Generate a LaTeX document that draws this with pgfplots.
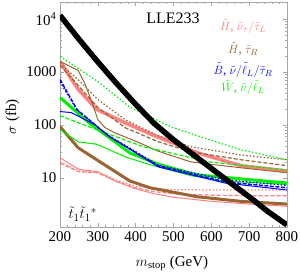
\documentclass[border=0pt]{standalone}
\usepackage{pgfplots}
\pgfplotsset{compat=1.18}
\usepackage{fontspec}
\setmainfont{Liberation Serif}
\definecolor{pinkc}{RGB}{255,128,128}
\definecolor{brownc}{RGB}{153,102,51}
\definecolor{greenc}{RGB}{0,240,0}
\definecolor{bluec}{RGB}{0,0,255}
\begin{document}
\begin{tikzpicture}
\begin{axis}[
  scale only axis, width=227pt, height=225pt,
  xmin=200, xmax=800, ymode=log, ymin=1.18, ymax=21000,
  xtick={200,300,...,800}, minor x tick num=4,
  ytick={10,100,1000,10000}, yticklabels={10,100,1000,10\textsuperscript{4}},
  /pgf/number format/assume math mode=true,
  /pgf/number format/set thousands separator={},
  tick style={gray!70, line width=0.4pt},
  major tick length=4pt, minor tick length=2pt,
  axis line style={gray!70, line width=0.5pt},
  tick label style={font=\fontsize{15}{15}\selectfont},
  xticklabel style={yshift=-1pt},
  xlabel={$m_{\mathrm{stop}}$ (GeV)}, ylabel={$\sigma$ (fb)},
  label style={font=\fontsize{15}{15}\selectfont},
  xlabel style={at={(axis description cs:0.493,-0.16)}, anchor=center},
  ylabel style={at={(axis description cs:-0.21,0.49)}, anchor=center, rotate=0},
  clip=true,
]
% pink (Higgsino, sneutrino/stau L)
\addplot[pinkc, line width=3.5pt] coordinates {(200,1590)(248,470)(298,195)(372,110)(438,68)(565,29.5)(678,17)(800,13.5)};
\addplot[pinkc, line width=1pt] coordinates {(200,24)(250,14.5)(300,13)(350,8.5)(400,6.2)(450,5.0)(500,4.3)(600,3.6)(700,3.2)(800,2.9)};
\addplot[pinkc, line width=1.2pt, dash pattern=on 4pt off 2pt] coordinates {(200,19)(250,13)(300,12.5)(350,8.5)(400,6.5)(450,5.5)(500,5.0)(600,4.7)(700,4.6)(800,4.6)};
\addplot[pinkc, line width=1.2pt, dash pattern=on 1.5pt off 2pt] coordinates {(200,20)(250,13.5)(300,12.8)(350,9)(400,7)(450,6.3)(500,6.0)(600,5.9)(700,5.9)(800,5.9)};
% brown (Higgsino, stau R)
\addplot[brownc, line width=3pt] coordinates {(200,93)(248,37)(306,20)(385,8.7)(438,6.5)(562,4.4)(678,3.6)(800,3.2)};
\addplot[brownc, line width=1pt] coordinates {(200,1590)(248,1070)(266,600)(285,263)(300,126)(319,89)(345,71)(398,50)(459,32)(546,20)(678,15.5)(800,12.5)};
\addplot[brownc, line width=1.2pt, dash pattern=on 1.5pt off 2pt] coordinates {(200,1456)(253,663)(300,302)(372,126)(459,62.7)(546,38.7)(678,27)(800,22)};
\addplot[brownc, line width=1.2pt, dash pattern=on 4pt off 2pt] coordinates {(200,1334)(253,510)(300,213)(372,89)(459,48.2)(546,31.1)(678,22)(800,17)};
% green (Wino)
\addplot[greenc, line width=1.2pt, dash pattern=on 1.5pt off 2pt] coordinates {(200,1977)(300,660)(385,215)(491,93)(597,52)(678,34)(800,22)};
\addplot[greenc, line width=3pt] coordinates {(200,330)(282,102)(327,60)(385,29.5)(464,17.7)(562,11.4)(676,9.6)(800,8.0)};
\addplot[greenc, line width=1pt] coordinates {(200,81)(248,48)(298,43)(372,25)(438,17.7)(546,11)(636,8.7)(800,7.5)};
\addplot[greenc, line width=1.2pt, dash pattern=on 4pt off 2pt] coordinates {(200,150)(282,89)(419,39)(596,20)(800,14)};
% blue (Bino)
\addplot[bluec, line width=1.4pt, dash pattern=on 4pt off 1.5pt] coordinates {(200,724)(245,195)(327,62.7)(459,16.9)(636,8.4)(800,6.5)};
\addplot[bluec, line width=1.2pt, dash pattern=on 1.5pt off 2pt] coordinates {(200,650)(245,190)(327,64)(459,17.5)(636,9.2)(800,7.2)};
\addplot[bluec, line width=1pt] coordinates {(200,179)(230,171)(292,101)(327,62.7)(459,16.2)(636,8.0)(800,5.9)};
% stop pair cross section
\addplot[black, line width=5.5pt] coordinates {(200,11750)(250,4170)(300,1550)(350,603)(400,245)(450,105)(500,52.5)(550,28.2)(600,15.1)(650,8.1)(700,4.4)(750,2.3)(800,1.29)};
% labels
\node[font=\fontsize{16}{16}\selectfont] at (rel axis cs:0.498,0.929) {LLE233};
\node[pinkc, font=\fontsize{13}{13}\selectfont] at (rel axis cs:0.806,0.889) {$\tilde{H}$, $\tilde{\nu}_{\tau}/\tilde{\tau}_{L}$};
\node[brownc, font=\fontsize{13}{13}\selectfont] at (rel axis cs:0.806,0.791) {$\tilde{H}$, $\tilde{\tau}_{R}$};
\node[bluec, font=\fontsize{13}{13}\selectfont] at (rel axis cs:0.806,0.698) {$\tilde{B}$, $\tilde{\nu}/\tilde{\ell}_{L}/\tilde{\tau}_{R}$};
\node[greenc, font=\fontsize{13}{13}\selectfont] at (rel axis cs:0.806,0.62) {$\tilde{W}$, $\tilde{\nu}/\tilde{\ell}_{L}$};
\node[font=\fontsize{15}{15}\selectfont] at (rel axis cs:0.10,0.058) {$\tilde{t}_{1}\tilde{t}_{1}{}^{*}$};
\end{axis}
\pgfresetboundingbox
\path ([shift={(-60pt,-48pt)}]current axis.south west) rectangle ([shift={(13pt,2pt)}]current axis.north east);
\end{tikzpicture}
\end{document}
